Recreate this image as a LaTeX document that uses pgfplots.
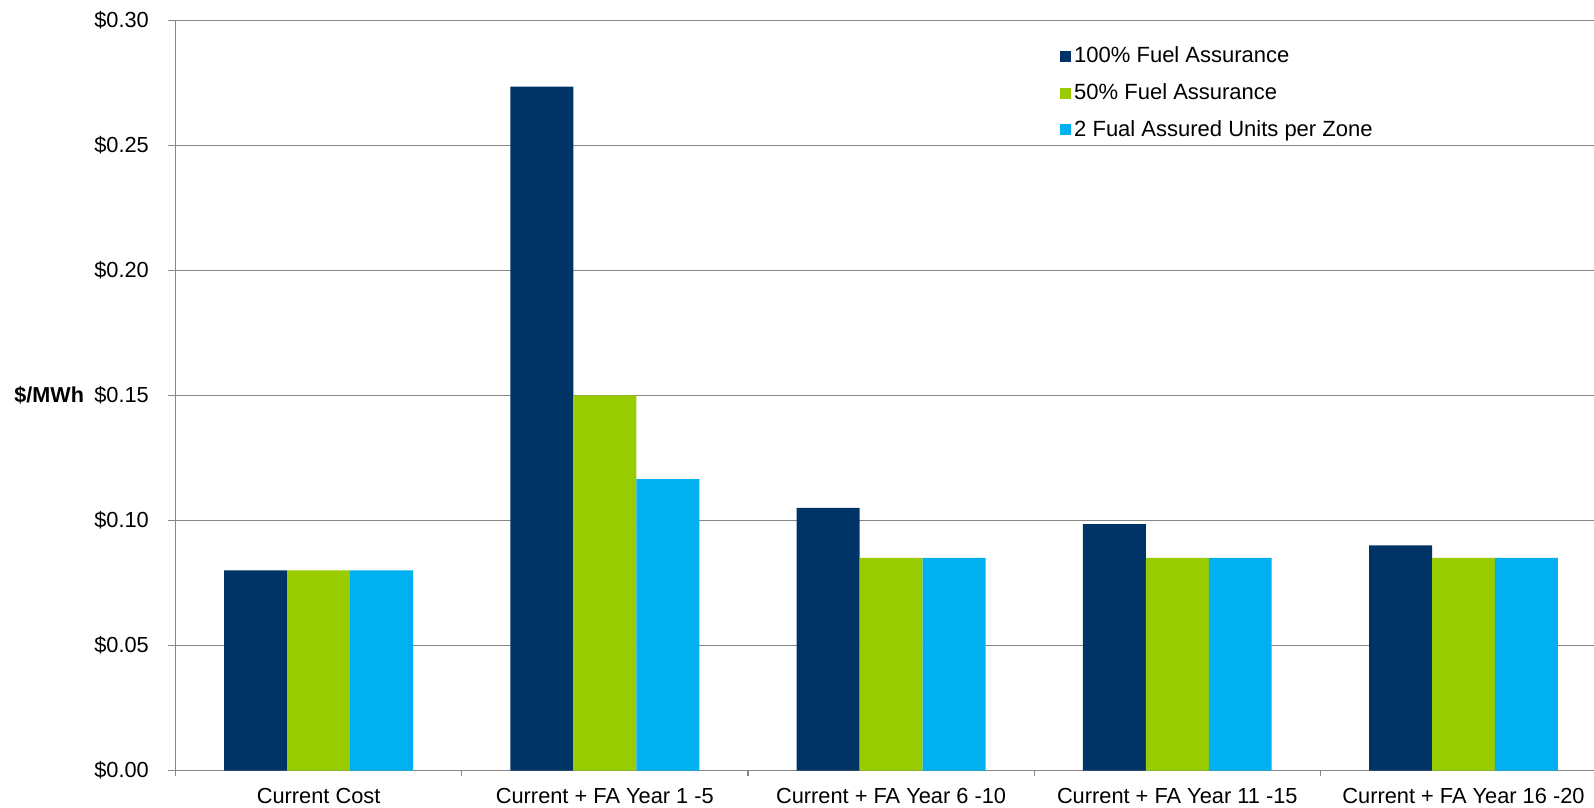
\documentclass[border=0pt]{standalone}
\usepackage{fontspec}
\setmainfont{Liberation Sans}
\usepackage{pgfplots}
\pgfplotsset{compat=1.18}
\definecolor{navy}{RGB}{0,51,102}
\definecolor{lgreen}{RGB}{153,204,0}
\definecolor{cyanb}{RGB}{0,176,240}
\definecolor{gridg}{RGB}{134,134,134}
\pgfplotsset{sqlegend/.style={legend image code/.code={\fill[#1] (0pt,-2.75pt) rectangle (5.5pt,2.75pt); \path (6.3pt,0pt);}}}
\begin{document}
\begin{tikzpicture}
\begin{axis}[
  scale only axis,
  width=709.25pt, height=375pt,
  xmin=-0.5, xmax=4.456,
  ymin=0, ymax=0.30,
  ybar=0pt, bar width=0.22,
  axis x line*=bottom, axis y line*=left,
  axis line style={gridg, line width=0.7pt, -},
  xtick={0,1,2,3,4},
  xticklabels={Current Cost, Current + FA Year 1 -5, Current + FA Year 6 -10, Current + FA Year 11 -15, Current + FA Year 16 -20},
  major x tick style={draw=none},
  minor xtick={-0.5,0.5,1.5,2.5,3.5},
  minor tick length=2.7pt,
  minor x tick style={gridg, line width=0.6pt},
  ytick={0,0.05,0.10,0.15,0.20,0.25,0.30},
  yticklabels={\$0.00,\$0.05,\$0.10,\$0.15,\$0.20,\$0.25,\$0.30},
  tick align=outside,
  major tick length=3.5pt,
  major y tick style={gridg, line width=0.6pt},
  ymajorgrids,
  grid style={gridg, line width=0.65pt},
  tick label style={font=\fontsize{10.9}{13}\selectfont, text=black},
  yticklabel style={xshift=-6.3pt},
  xticklabel style={yshift=-2pt},
  legend style={draw=none, fill=none, at={(0.623,0.968)}, anchor=north west,
    font=\fontsize{11}{13}\selectfont, row sep=6.9pt, inner sep=0pt,
    nodes={inner sep=1pt}},
  legend cell align=left,
  sqlegend,
]
\addplot[fill=navy, draw=none] coordinates {(0,0.080) (1,0.2735) (2,0.1050) (3,0.0985) (4,0.0900)};
\addplot[fill=lgreen, draw=none] coordinates {(0,0.080) (1,0.1500) (2,0.0850) (3,0.0850) (4,0.0850)};
\addplot[fill=cyanb, draw=none] coordinates {(0,0.080) (1,0.1165) (2,0.0850) (3,0.0850) (4,0.0850)};
\legend{100\% Fuel Assurance, 50\% Fuel Assurance, 2 Fual Assured Units per Zone}
\end{axis}
\node[anchor=west, inner sep=0pt, font=\fontsize{10.8}{13}\selectfont\bfseries] at ([xshift=-80.75pt]current axis.west) {\$/MWh};
\pgfresetboundingbox
\path[use as bounding box] ([xshift=-87.75pt,yshift=-18.7pt]current axis.south west) rectangle ([yshift=10.25pt]current axis.north east);
\end{tikzpicture}
\end{document}
